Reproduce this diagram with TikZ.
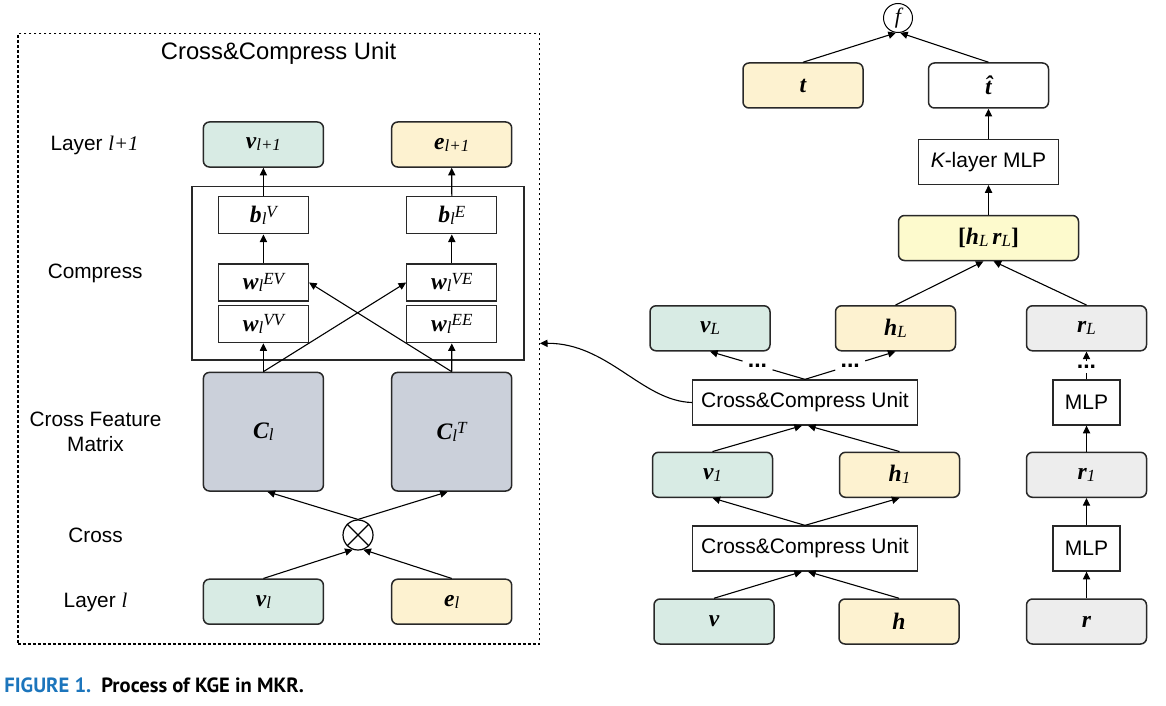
\documentclass[tikz,border=0pt]{standalone}
\usepackage{fontspec}
\setmainfont{Liberation Sans}
\newfontfamily\tms{Liberation Serif}
\newfontfamily\capfont{PT Sans}
\usetikzlibrary{arrows.meta,calc}
\definecolor{bd}{RGB}{40,40,40}
\definecolor{grn}{RGB}{216,235,228}
\definecolor{ylw}{RGB}{253,242,208}
\definecolor{cgr}{RGB}{203,208,218}
\definecolor{lgr}{RGB}{237,237,237}
\definecolor{hry}{RGB}{253,250,205}
\definecolor{capblue}{RGB}{28,117,188}
\newcommand\mv[1]{{\tms\bfseries\itshape #1}}
\newcommand\lsb[1]{\raisebox{-1pt}{\tms\fontsize{8.5}{9}\selectfont\itshape #1}}
\newcommand\lsp[1]{\raisebox{2.8pt}{\tms\fontsize{8.5}{9}\selectfont\itshape #1}}
\newcommand\itl[1]{{\tms\itshape #1}}
\tikzset{
  mbox/.style={draw=bd, line width=0.75pt, rounded corners=3pt, minimum width=60pt,
    minimum height=22.5pt, inner sep=0pt, font=\fontsize{11.8}{13}\selectfont},
  gbox/.style={mbox, fill=grn},
  ybox/.style={mbox, fill=ylw},
  rbox/.style={mbox, fill=lgr},
  sqbox/.style={draw=bd, line width=0.65pt, inner sep=0pt, font=\fontsize{10.5}{12}\selectfont,
    minimum height=22.5pt},
  wbox/.style={sqbox, minimum width=45pt, minimum height=18.5pt, font=\fontsize{11.8}{13}\selectfont},
  arr/.style={-{Triangle[length=3.8pt,width=3.6pt]}, line width=0.55pt, draw=black},
  ln/.style={line width=0.55pt, draw=black},
  lab/.style={font=\fontsize{10.4}{12.5}\selectfont, align=center},
  dotsnode/.style={inner xsep=2.5pt, inner ysep=2pt, font=\bfseries\fontsize{11.5}{12}\selectfont}
}
\begin{document}
\begin{tikzpicture}[x=0.5pt,y=-0.5pt]
\useasboundingbox (0,0) rectangle (1166,706);

% ---------- left: Cross&Compress Unit ----------
\node[draw=black, line width=0.6pt, dash pattern=on 1.4pt off 1.1pt,
  minimum width=260.7pt, minimum height=305.3pt, inner sep=0pt] (unit) at (278.6,338.7) {};
\node[font=\fontsize{11.9}{14}\selectfont] (title) at (278.6,53) {Cross\&Compress Unit};

\node[lab] (labA) at (94.6,145) {Layer \itl{l+1}};
\node[lab] (labB) at (95.2,273) {Compress};
\node[lab] (labC) at (95.5,431.7) {Cross Feature\\Matrix};
\node[lab] (labD) at (95.5,535) {Cross};
\node[lab] (labE) at (95.5,602.5) {Layer \itl{l}};

\node[gbox] (vl1) at (263.4,144.5) {\mv{v}\lsb{l+1}};
\node[ybox] (el1) at (451.7,144.5) {\mv{e}\lsb{l+1}};

\node[sqbox, minimum width=166pt, minimum height=86.6pt] (comp) at (358,273.3) {};
\node[wbox] (bV) at (263.4,215.3) {\mv{b}\lsb{l}\lsp{V}};
\node[wbox] (bE) at (451.8,215.3) {\mv{b}\lsb{l}\lsp{E}};
\node[wbox] (wEV) at (263.4,282.5) {\mv{w}\lsb{l}\lsp{EV}};
\node[wbox] (wVV) at (263.4,324.2) {\mv{w}\lsb{l}\lsp{VV}};
\node[wbox] (wVE) at (451.8,282.5) {\mv{w}\lsb{l}\lsp{VE}};
\node[wbox] (wEE) at (451.8,324.2) {\mv{w}\lsb{l}\lsp{EE}};

\node[mbox, fill=cgr, minimum height=59.3pt] (Cl) at (263.4,431.7) {\mv{C}\lsb{l}};
\node[mbox, fill=cgr, minimum height=59.3pt] (ClT) at (451.7,431.7) {\mv{C}\lsb{l}\lsp{T}};

\node[circle, draw=black, line width=0.6pt, minimum size=15pt, inner sep=0pt] (ot) at (358,535) {};
\draw[line width=0.6pt] (ot.45) -- (ot.225) (ot.135) -- (ot.315);

\node[gbox] (vl) at (263.4,601.7) {\mv{v}\lsb{l}};
\node[ybox] (el) at (451.7,601.7) {\mv{e}\lsb{l}};

\draw[arr] (vl.north) -- (ot.250);
\draw[arr] (el.north) -- (ot.290);
\draw[arr] (ot.north) -- ([xshift=2pt]Cl.south);
\draw[arr] (ot.north) -- ([xshift=-2pt]ClT.south);
\draw[arr] (Cl.north) -- (wVV.south);
\draw[arr] (ClT.north) -- (wEE.south);
\draw[arr] (Cl.north) -- (wVE.west);
\draw[arr] (ClT.north) -- (wEV.east);
\draw[arr] (wEV.north) -- (bV.south);
\draw[arr] (wVE.north) -- (bE.south);
\draw[arr] (bV.north) -- (vl1.south);
\draw[arr] (bE.north) -- (el1.south);

% ---------- right: KGE pipeline ----------
\node[circle, draw=black, line width=0.5pt, minimum size=14.5pt, inner sep=0pt,
  font=\tms\itshape\fontsize{11}{12}\selectfont] (f) at (898,18) {f};
\node[ybox, minimum width=60pt] (t) at (803,85.5) {\mv{t}};
\node[mbox, fill=white] (th) at (988.5,85.5) {\mv{\^t}};
\node[sqbox, minimum width=70pt] (kmlp) at (988.5,162) {\itshape K\upshape-layer MLP};
\node[mbox, fill=hry, minimum width=90pt] (hr) at (988.5,238) {{\tms\bfseries[}\mv{h}\lsb{L}\,\mv{r}\lsb{L}{\tms\bfseries]}};

\node[gbox] (vL) at (710,328.3) {\mv{v}\lsb{L}};
\node[ybox] (hL) at (895.5,328.3) {\mv{h}\lsb{L}};
\node[rbox] (rL) at (1086.5,328.3) {\mv{r}\lsb{L}};

\node[sqbox, minimum width=112.5pt] (ccu2) at (805,402.5) {Cross\&Compress Unit};
\node[sqbox, minimum width=33.5pt] (mlp2) at (1086.5,402.5) {MLP};

\node[gbox] (v1) at (712.5,474.8) {\mv{v}\lsb{1}};
\node[ybox] (h1) at (899.5,474.8) {\mv{h}\lsb{1}};
\node[rbox] (r1) at (1086.5,474.8) {\mv{r}\lsb{1}};

\node[sqbox, minimum width=112.5pt] (ccu1) at (805,548.5) {Cross\&Compress Unit};
\node[sqbox, minimum width=33.5pt] (mlp1) at (1086.5,548.5) {MLP};

\node[gbox] (v) at (714,621.5) {\mv{v}};
\node[ybox] (h) at (899,621.5) {\mv{h}};
\node[rbox] (r) at (1086.5,621.5) {\mv{r}};

% connectors
\draw[arr] (v.north) -- ([xshift=-1.5pt]ccu1.south);
\draw[arr] (h.north) -- ([xshift=1.5pt]ccu1.south);
\draw[arr] (ccu1.north) -- (v1.south);
\draw[arr] (ccu1.north) -- (h1.south);
\draw[arr] (v1.north) -- ([xshift=-1.5pt]ccu2.south);
\draw[arr] (h1.north) -- ([xshift=1.5pt]ccu2.south);

\path (ccu2.north) -- node[dotsnode, pos=0.5] (d1) {...} (vL.south);
\path (ccu2.north) -- node[dotsnode, pos=0.5] (d2) {...} (hL.south);
\draw[ln] (ccu2.north) -- (d1);
\draw[arr] (d1) -- (vL.south);
\draw[ln] (ccu2.north) -- (d2);
\draw[arr] (d2) -- (hL.south);

\draw[arr] (r.north) -- (mlp1.south);
\draw[arr] (mlp1.north) -- (r1.south);
\draw[arr] (r1.north) -- (mlp2.south);
\path (mlp2.north) -- node[dotsnode, pos=0.45] (d3) {...} (rL.south);
\draw[ln] (mlp2.north) -- (d3);
\draw[arr] (d3) -- (rL.south);

\draw[arr] (hL.north) -- ([xshift=-2.5pt]hr.south);
\draw[arr] (rL.north) -- ([xshift=2.5pt]hr.south);
\draw[arr] (hr.north) -- (kmlp.south);
\draw[arr] (kmlp.north) -- (th.south);
\draw[arr] (t.north) -- (f.262);
\draw[arr] (th.north) -- (f.278);

\draw[arr] (ccu2.west) .. controls (642,401) and (608,343) .. ([yshift=-2.3pt]unit.east);

% caption
\node[anchor=west, inner sep=0pt, font=\capfont\bfseries\fontsize{10.3}{12}\selectfont] (cap) at (4,685)
  {\textcolor{capblue}{FIGURE 1.}\hspace{5pt}Process of KGE in MKR.};
\end{tikzpicture}
\end{document}
